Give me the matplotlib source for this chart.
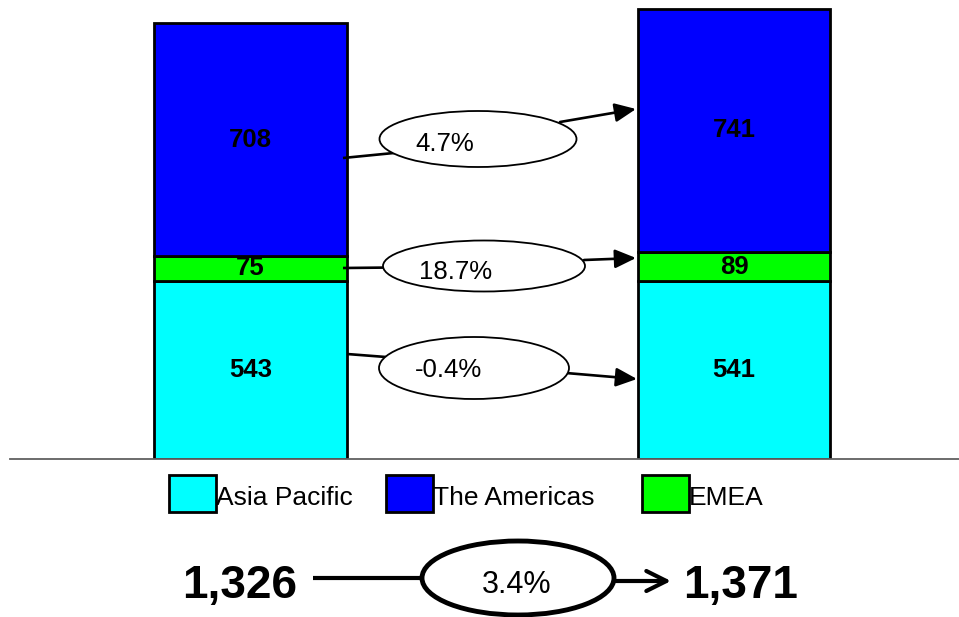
import matplotlib.pyplot as plt
from matplotlib.patches import Ellipse, Rectangle

plt.rcParams['font.family'] = ['Liberation Sans', 'DejaVu Sans']

# Revenue by region, prior year vs current year
regions = ['Asia Pacific', 'EMEA', 'The Americas']
colors = ['#00FFFF', '#00FF00', '#0000FF']
prior = [543, 75, 708]
current = [541, 89, 741]

legend_order = ['Asia Pacific', 'The Americas', 'EMEA']

W, H = 959, 617
fig = plt.figure(figsize=(W / 100, H / 100), dpi=100)

# bar axes: pixel-matched placement, y in value units
ax = fig.add_axes([10 / W, (H - 459) / H, 949 / W, 459 / H])
ax.set_xlim(-0.4974, 1.4654)
ax.set_ylim(0, 1397)
bar_w = 0.399
for col, vals in enumerate([prior, current]):
    bottom = 0
    for name, c, v in zip(regions, colors, vals):
        ax.bar(col, v, bottom=bottom, width=bar_w, color=c,
               edgecolor='black', linewidth=2.0, zorder=2)
        ax.text(col, bottom + v / 2, f'{v}', ha='center', va='center',
                fontsize=18.5, fontweight='bold', zorder=3)
        bottom += v
for s in ['top', 'left', 'right']:
    ax.spines[s].set_visible(False)
ax.spines['bottom'].set_color('#606060')
ax.spines['bottom'].set_linewidth(1.3)
ax.set_xticks([])
ax.set_yticks([])
ax.patch.set_alpha(0)

# overlay in pixel coordinates for callouts and legend
ov = fig.add_axes([0, 0, 1, 1])
ov.set_xlim(0, W)
ov.set_ylim(H, 0)
ov.axis('off')
ov.patch.set_alpha(0)


def growth(a, b):
    return f'{(b / a - 1) * 100:.1f}%'


# (line start, ellipse centre/size, arrow start, arrow end, text pos)
callouts = {
    'The Americas': ((343, 158), (478, 139, 197, 56), (560, 122), (636, 109), (445, 151)),
    'EMEA': ((343, 268), (484, 266, 202, 51), (584, 260), (636, 258), (456, 279)),
    'Asia Pacific': ((347, 354), (474, 368, 190, 62), (566, 373), (637, 379), (448, 377)),
}
for i, name in enumerate(regions):
    p0, (ex, ey, ew, eh), a0, a1, tp = callouts[name]
    ov.plot([p0[0], ex], [p0[1], ey + (p0[1] - ey) * 0.3], color='black',
            lw=1.9, zorder=4, solid_capstyle='butt')
    ov.add_patch(Ellipse((ex, ey), ew, eh, facecolor='white',
                         edgecolor='black', lw=1.3, zorder=5))
    ov.annotate('', xy=a1, xytext=a0,
                arrowprops=dict(arrowstyle='-|>,head_length=0.85,head_width=0.38',
                                mutation_scale=15, color='black', lw=1.9,
                                shrinkA=0, shrinkB=0), zorder=4)
    ov.text(tp[0], tp[1], growth(prior[i], current[i]), ha='center',
            va='baseline', fontsize=18.5, zorder=6)

# legend
legend_pos = {'Asia Pacific': 169, 'The Americas': 386, 'EMEA': 642}
for name in legend_order:
    c = colors[regions.index(name)]
    x0 = legend_pos[name]
    ov.add_patch(Rectangle((x0, 475), 47, 37, facecolor=c,
                           edgecolor='black', lw=2.0, zorder=5))
    ov.text(x0 + 47, 505, name, ha='left', va='baseline', fontsize=19, zorder=6)

# totals
tot_prior = sum(prior)
tot_current = sum(current)
ov.text(240, 598, f'{tot_prior:,}', ha='center', va='baseline',
        fontsize=33, fontweight='bold')
ov.text(741, 598, f'{tot_current:,}', ha='center', va='baseline',
        fontsize=33, fontweight='bold')
ov.plot([313, 424], [578, 578], color='black', lw=3, solid_capstyle='butt', zorder=4)
ov.add_patch(Ellipse((518, 578), 192, 74, facecolor='white',
                     edgecolor='black', lw=3.5, zorder=5))
ov.annotate('', xy=(671, 581), xytext=(612, 581),
            arrowprops=dict(arrowstyle='->,head_length=0.6,head_width=0.3',
                            mutation_scale=24, color='black', lw=3,
                            shrinkA=0, shrinkB=0), zorder=4)
ov.text(517, 593, growth(tot_prior, tot_current), ha='center', va='baseline',
        fontsize=22, zorder=6)

fig.savefig('out.png', dpi=100)
